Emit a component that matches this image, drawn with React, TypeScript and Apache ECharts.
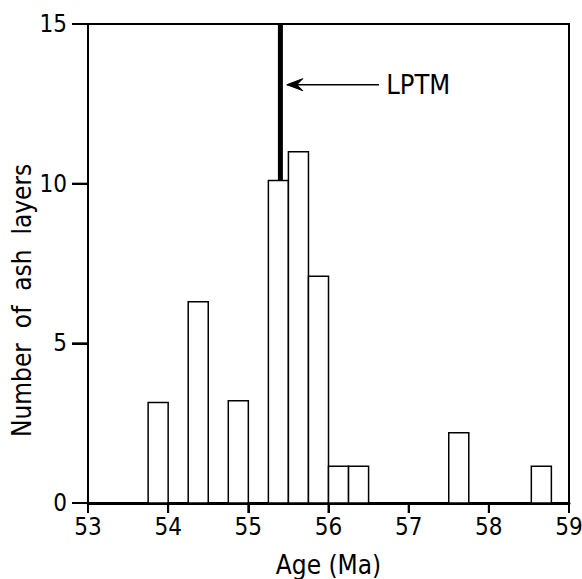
import React, { useEffect, useRef } from "react";
import * as echarts from "echarts";

// Histogram bins (Ma) and counts
const binStarts = [53.75, 54.25, 54.75, 55.25, 55.5, 55.75, 56.0, 56.25, 57.5, 58.53];
const binWidth = 0.25;
const counts = [3.15, 6.3, 3.2, 10.1, 11.0, 7.1, 1.15, 1.15, 2.2, 1.15];

const xTicks = [53, 54, 55, 56, 57, 58, 59];
const yTicks = [0, 5, 10, 15];

// LPTM marker: age, bottom value, top value
const lptmAge = 55.4;
const lptmBottom = 10.1;
const lptmTop = 15;
// arrow: from (tail age) to (tip age) at level
const arrowTail = 56.63;
const arrowTip = 55.48;
const arrowLevel = 13.1;
const lptmLabel = "LPTM";
const labelAge = 56.72;

const FONT = "'Liberation Sans Narrow', 'DejaVu Sans Condensed', 'Liberation Sans', sans-serif";

export default function App() {
  const ref = useRef<HTMLDivElement>(null);
  useEffect(() => {
    if (!ref.current) return;
    const chart = echarts.init(ref.current, null, { renderer: "svg" });
    const barData = binStarts.map((s, i) => [s, s + binWidth, counts[i]]);
    chart.setOption({
      animation: false,
      backgroundColor: "#ffffff",
      grid: {
        left: 88,
        right: 13,
        top: 24,
        bottom: 76,
        outerBoundsMode: "none",
        containLabel: false,
        show: true,
        borderColor: "#000",
        borderWidth: 2,
        backgroundColor: "transparent",
      },
      xAxis: {
        type: "value",
        min: xTicks[0],
        max: xTicks[xTicks.length - 1],
        interval: 1,
        name: "Age (Ma)",
        nameLocation: "middle",
        nameGap: 49,
        nameTextStyle: { fontFamily: FONT, fontSize: 26, color: "#000" },
        axisLine: { show: true, onZero: false, lineStyle: { color: "#000", width: 3 } },
        axisTick: { show: true, inside: false, length: 10, lineStyle: { color: "#000", width: 2 } },
        axisLabel: { fontFamily: FONT, fontSize: 24, color: "#000", margin: 12 },
        splitLine: { show: false },
      },
      yAxis: {
        type: "value",
        min: yTicks[0],
        max: yTicks[yTicks.length - 1],
        interval: 5,
        axisLine: { show: true, lineStyle: { color: "#000", width: 2 } },
        axisTick: { show: true, inside: false, length: 16, lineStyle: { color: "#000", width: 2 } },
        axisLabel: { fontFamily: FONT, fontSize: 24, color: "#000", margin: 21 },
        splitLine: { show: false },
      },
      graphic: [
        {
          type: "text",
          rotation: Math.PI / 2,
          x: 9,
          y: 437,
          style: {
            text: "Number  of  ash  layers",
            fontFamily: FONT,
            fontSize: 26,
            fill: "#000",
          },
        },
      ],
      series: [
        {
          type: "custom",
          data: barData,
          encode: { x: [0, 1], y: 2 },
          renderItem: (params: any, api: any) => {
            const s = api.value(0);
            const e = api.value(1);
            const v = api.value(2);
            const p0 = api.coord([s, 0]);
            const p1 = api.coord([e, v]);
            return {
              type: "rect",
              shape: { x: p0[0], y: p1[1], width: p1[0] - p0[0], height: p0[1] - p1[1] },
              style: { fill: "#fff", stroke: "#000", lineWidth: 1.5 },
            };
          },
          z: 2,
        },
        {
          // outward tick marks on the x axis
          type: "custom",
          clip: false,
          silent: true,
          data: xTicks.map((t) => [t, yTicks[0]]),
          encode: { x: 0, y: 1 },
          renderItem: (params: any, api: any) => {
            const p = api.coord([api.value(0), api.value(1)]);
            return {
              type: "line",
              shape: { x1: p[0], y1: p[1], x2: p[0], y2: p[1] + 10 },
              style: { stroke: "#000", lineWidth: 2 },
            };
          },
          z: 4,
        },
        {
          // outward tick marks on the y axis
          type: "custom",
          clip: false,
          silent: true,
          data: yTicks.map((t) => [xTicks[0], t]),
          encode: { x: 0, y: 1 },
          renderItem: (params: any, api: any) => {
            const p = api.coord([api.value(0), api.value(1)]);
            return {
              type: "line",
              shape: { x1: p[0] - 16, y1: p[1], x2: p[0], y2: p[1] },
              style: { stroke: "#000", lineWidth: 2 },
            };
          },
          z: 4,
        },
        {
          type: "custom",
          data: [[lptmAge, lptmBottom, lptmTop, arrowTail, arrowTip, arrowLevel, labelAge]],
          encode: { x: 0, y: 2 },
          renderItem: (params: any, api: any) => {
            const a = api.coord([api.value(0), api.value(1)]);
            const b = api.coord([api.value(0), api.value(2)]);
            const tail = api.coord([api.value(3), api.value(5)]);
            const tip = api.coord([api.value(4), api.value(5)]);
            const lab = api.coord([api.value(6), api.value(5)]);
            return {
              type: "group",
              children: [
                {
                  type: "line",
                  shape: { x1: a[0], y1: a[1], x2: b[0], y2: b[1] },
                  style: { stroke: "#000", lineWidth: 5 },
                },
                {
                  type: "line",
                  shape: { x1: tail[0], y1: tail[1], x2: tip[0], y2: tip[1] },
                  style: { stroke: "#000", lineWidth: 1.5 },
                },
                {
                  type: "polygon",
                  shape: {
                    points: [
                      [tip[0] + 16, tip[1] - 6],
                      [tip[0], tip[1]],
                      [tip[0] + 16, tip[1] + 6],
                      [tip[0] + 10, tip[1]],
                    ],
                  },
                  style: { fill: "#000", stroke: "#000", lineWidth: 1 },
                },
                {
                  type: "text",
                  x: lab[0],
                  y: lab[1],
                  style: {
                    text: lptmLabel,
                    fontFamily: FONT,
                    fontSize: 27,
                    fill: "#000",
                    align: "left",
                    verticalAlign: "middle",
                  },
                },
              ],
            };
          },
          z: 3,
        },
      ],
    });
    return () => chart.dispose();
  }, []);
  return (
    <div
      ref={ref}
      style={{ position: "fixed", left: 0, top: 0, width: 582, height: 579 }}
    />
  );
}
